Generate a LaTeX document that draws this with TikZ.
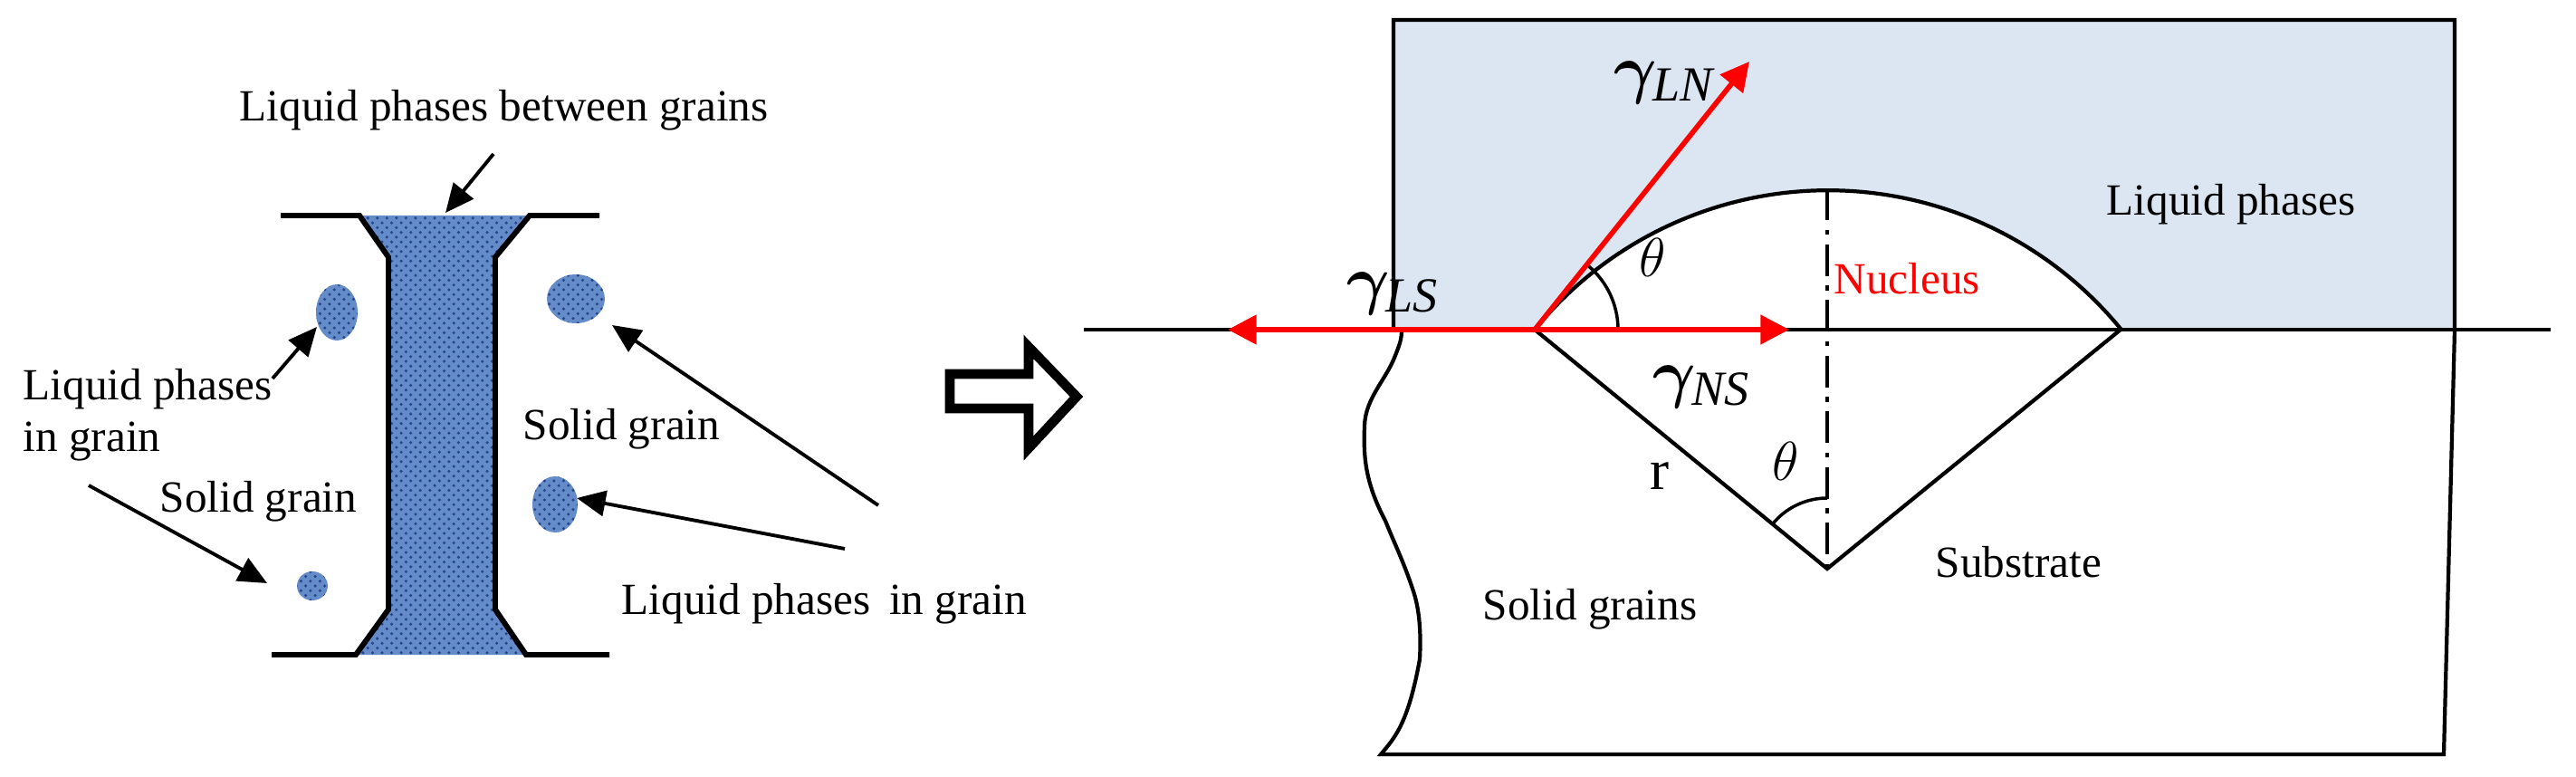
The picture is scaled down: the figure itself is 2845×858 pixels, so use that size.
\documentclass[tikz,border=0pt]{standalone}
\usepackage{fontspec}
\usepackage{amsmath,bm}
\setmainfont{Liberation Serif}
\usetikzlibrary{arrows.meta,patterns,calc}
\definecolor{liq}{RGB}{220,230,242}
\definecolor{grainblue}{RGB}{100,140,200}
\definecolor{darkblue}{RGB}{40,70,140}
\begin{document}
\begin{tikzpicture}[x=0.01cm,y=-0.01cm,
  lbl/.style={inner sep=0,anchor=base west,font=\fontsize{14}{16}\selectfont},
  glbl/.style={inner sep=0,anchor=base west,font=\fontsize{22}{24}\selectfont},
  blk/.style={line width=1.1pt,-{Triangle[length=9pt,width=8pt]}},
  redarr/.style={red,line width=1.6pt,-{Triangle[length=9pt,width=9pt]}},
  grain/.style={fill=grainblue,postaction={pattern=crosshatch dots,pattern color=darkblue}},
  wall/.style={line width=1.7pt}]
\useasboundingbox (0,0) rectangle (2845,858);
% ---------- left figure ----------
\fill[grain] (397,238) -- (585,238) -- (547,284) -- (547,673) -- (581,723) -- (393,723) -- (429,673) -- (429,284) -- cycle;
\draw[wall] (310,238) -- (397,238) -- (429,284) -- (429,673) -- (393,723) -- (300,723);
\draw[wall] (662,238) -- (585,238) -- (547,284) -- (547,673) -- (581,723) -- (673,723);
\path[grain] (372,345) ellipse[x radius=23,y radius=31];
\path[grain] (636,330) ellipse[x radius=32,y radius=27];
\path[grain] (613,557) ellipse[x radius=25,y radius=31];
\path[grain] (345,647) ellipse[x radius=17,y radius=16];
\coordinate (g1) at (350,361);
\coordinate (g2) at (676,359);
\coordinate (g3) at (637,550);
\coordinate (g4) at (295,644);
\coordinate (ch) at (492,235);
\node[lbl] (tbg) at (264,134) {Liquid phases between grains};
\node[lbl,align=left,anchor=north west] (tlp) at (25,407) {Liquid phases\\in grain};
\node[lbl] (tsg1) at (176,566) {Solid grain};
\node[lbl] (tsg2) at (577,486) {Solid grain};
\node[lbl] (tlp2) at (686,678) {Liquid phases\, in grain};
\coordinate (a1) at (545,170);
\coordinate (a2) at (301,418);
\coordinate (a3) at (98,536);
\coordinate (a4) at (970,558);
\coordinate (a5) at (933,606);
\draw[blk] (a1) -- (ch);
\draw[blk] (a2) -- (g1);
\draw[blk] (a3) -- (g4);
\draw[blk] (a4) -- (g2);
\draw[blk] (a5) -- (g3);
% hollow arrow
\draw[line width=3pt,fill=white] (1049,413) -- (1136,413) -- (1136,383) -- (1189,438) -- (1136,495) -- (1136,451) -- (1049,451) -- cycle;
% ---------- right figure ----------
\fill[liq] (1539,22) rectangle (2711,364);
\coordinate (apex) at (2018,628);
\coordinate (C) at (1695,364);
\coordinate (E) at (2342,364);
\fill[white] (C) arc[start angle=-140.8,end angle=-39.2,radius=418] -- cycle;
\draw[line width=1.2pt] (C) arc[start angle=-140.8,end angle=-39.2,radius=418];
\draw[line width=1.2pt] (1548,364) -- (1539,364) -- (1539,22) -- (2711,22) -- (2711,364) -- (2699,833) -- (1525,833)
  .. controls (1540,815) and (1555,800) .. (1568,728)
  .. controls (1570,690) and (1566,667) .. (1560,650)
  .. controls (1550,620) and (1540,600) .. (1530,575)
  .. controls (1506,530) and (1506,500) .. (1507,470)
  .. controls (1508,440) and (1530,420) .. (1540,395)
  .. controls (1546,380) and (1548,375) .. (1548,364);
\draw[line width=1.2pt] (1197,364) -- (2817,364);
\draw[line width=1.2pt] (C) -- (apex) -- (E);
\draw[line width=1pt,dash pattern=on 10pt off 3pt on 1.5pt off 3pt] (2018,208) -- (apex);
\draw[line width=1pt] ($(C)+(92,0)$) arc[start angle=0,end angle=-51.5,radius=92];
\draw[line width=1pt] ($(apex)+(0,-78)$) arc[start angle=-90,end angle=-140.7,radius=78];
\coordinate (tLS) at (1356,364);
\coordinate (tNS) at (1976,364);
\coordinate (tLN) at (1932,68);
\draw[redarr] (C) -- (tLS);
\draw[redarr] (C) -- (tNS);
\draw[redarr] (C) -- (tLN);
\node[glbl] (gLS) at (1487,334) {$\bm{\gamma}_{\mathit{LS}}$};
\node[glbl] (gLN) at (1782,101) {$\bm{\gamma}_{\mathit{LN}}$};
\node[glbl] (gNS) at (1825,437) {$\bm{\gamma}_{\mathit{NS}}$};
\node[glbl,font=\fontsize{16}{18}\selectfont] (th1) at (1810,306) {$\theta$};
\node[glbl,font=\fontsize{16}{18}\selectfont] (th2) at (1957,531) {$\theta$};
\node[lbl,font=\fontsize{18}{20}\selectfont] (r) at (1822,541) {r};
\node[lbl,text=red] (nuc) at (2025,325) {Nucleus};
\node[lbl] (lp) at (2326,238) {Liquid phases};
\node[lbl] (sub) at (2137,637) {Substrate};
\node[lbl] (sgs) at (1637,684) {Solid grains};
\end{tikzpicture}
\end{document}
